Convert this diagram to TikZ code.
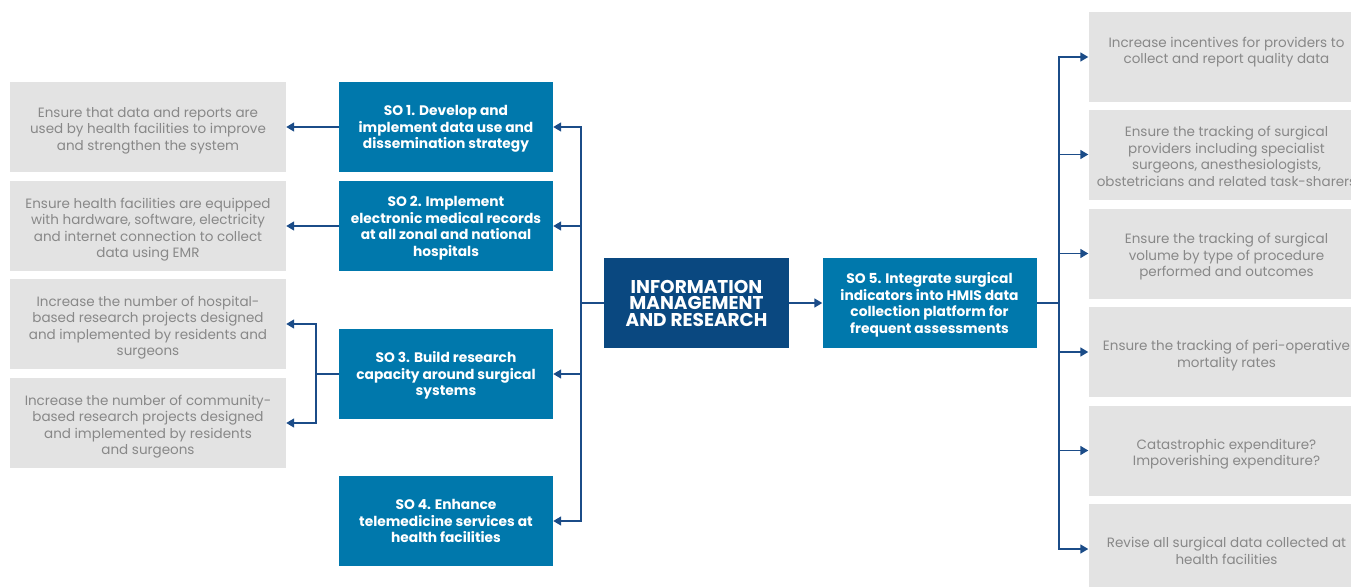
\documentclass[tikz,border=0pt]{standalone}
\usepackage{fontspec}
\setmainfont{Poppins}
\usetikzlibrary{arrows.meta}
\definecolor{sobox}{RGB}{0,120,172}
\definecolor{mainbox}{RGB}{10,72,128}
\definecolor{greybox}{RGB}{227,227,227}
\definecolor{greytext}{RGB}{136,136,136}
\definecolor{linkcol}{RGB}{27,76,136}
\newcommand\btext[2][3.5pt]{\raisebox{-#1}[\height][\depth]{\begin{tabular}{@{}c@{}}#2\end{tabular}}}
\tikzset{gblock/.style = {fill=greybox, text=greytext, rectangle, inner sep=2pt, minimum height=90pt, minimum width=276pt, font=\fontsize{13.5}{16.5}\selectfont},
         soblock/.style={fill=sobox, text=white, rectangle, inner sep=2pt, minimum height=90pt, minimum width=214pt, font=\fontsize{13.8}{16.5}\selectfont\bfseries},
         mblock/.style={fill=mainbox, text=white, rectangle, inner sep=2pt, minimum height=90pt, minimum width=185pt, align=center, font=\fontsize{18.5}{16.5}\selectfont\bfseries},
         link/.style={draw=linkcol, line width=1.5pt},
         arr/.style={link, -{Triangle[length=8pt,width=9pt]}}}

\begin{document}
\begin{tikzpicture}[x=1pt,y=-1pt]
    \clip (0,0) rectangle (1351,586);
    \node[mblock](main)at(696.5,303){INFORMATION\\MANAGEMENT\\AND RESEARCH};

    \node[soblock](so1)at(446,127){\btext[2pt]{SO 1. Develop and\\implement data use and\\dissemination strategy}};
    \node[soblock](so2)at(446,226){\btext[2pt]{SO 2. Implement\\electronic medical records\\at all zonal and national\\hospitals}};
    \node[soblock](so3)at(446,374){\btext[2pt]{SO 3. Build research\\capacity around surgical\\systems}};
    \node[soblock](so4)at(446,521){\btext[2pt]{SO 4. Enhance\\telemedicine services at\\health facilities}};
    \node[soblock](so5)at(929.5,303){\btext[2pt]{SO 5. Integrate surgical\\indicators into HMIS data\\collection platform for\\frequent assessments}};

    \node[gblock](g1)at(148,127){\btext{Ensure that data and reports are\\used by health facilities to improve\\and strengthen the system}};
    \node[gblock](g2)at(148,226){\btext{Ensure health facilities are equipped\\with hardware, software, electricity\\and internet connection to collect\\data using EMR}};
    \node[gblock](g3)at(148,324){\btext{Increase the number of hospital-\\based research projects designed\\and implemented by residents and\\surgeons}};
    \node[gblock](g4)at(148,423){\btext{Increase the number of community-\\based research projects designed\\and implemented by residents\\and surgeons}};

    \node[gblock](r1)at(1226.5,57){\btext{Increase incentives for providers to\\collect and report quality data\\\mbox{}}};
    \node[gblock](r2)at(1226.5,154.5){\btext{Ensure the tracking of surgical\\providers including specialist\\surgeons, anesthesiologists,\\obstetricians and related task-sharers}};
    \node[gblock](r3)at(1226.5,253.5){\btext{Ensure the tracking of surgical\\volume by type of procedure\\performed and outcomes}};
    \node[gblock](r4)at(1226.5,352){\btext{Ensure the tracking of peri-operative\\mortality rates}};
    \node[gblock](r5)at(1226.5,450.5){\btext{Catastrophic expenditure?\\Impoverishing expenditure?}};
    \node[gblock](r6)at(1226.5,549){\btext{Revise all surgical data collected at\\health facilities}};

    \coordinate (trunkL) at (581,303);
    \coordinate (trunkR) at (1059,303);
    \coordinate (split3) at (316,374);

    \draw[link](main.west)--(trunkL);
    \foreach \n in {so1,so2,so3,so4}
        \draw[arr](trunkL)|-(\n.east);

    \draw[arr](so1.west)--(g1.east);
    \draw[arr](so2.west)--(g2.east);
    \draw[link](so3.west)--(split3);
    \draw[arr](split3)|-(g3.east);
    \draw[arr](split3)|-(g4.east);

    \draw[arr](main.east)--(so5.west);
    \draw[link](so5.east)--(trunkR);
    \foreach \n in {r1,r2,r3,r4,r5,r6}
        \draw[arr](trunkR)|-(\n.west);
\end{tikzpicture}
\end{document}
